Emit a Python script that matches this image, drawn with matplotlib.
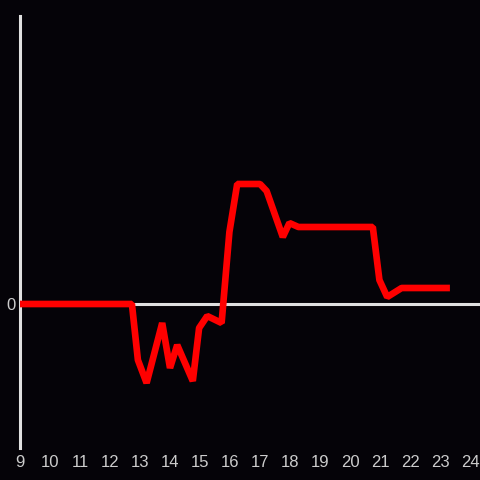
import matplotlib
matplotlib.use("Agg")
import matplotlib.pyplot as plt

hours = [9.0, 12.73, 12.93, 13.22, 13.74, 14.0, 14.24, 14.76, 14.97, 15.24, 15.72,
         15.98, 16.24, 17.0, 17.22, 17.76, 17.98, 18.28, 20.76, 20.98, 21.24, 21.72, 23.33]
values = [0, 0, -56, -79, -19, -64, -41, -77, -24, -12, -19,
          72, 120, 120, 113, 67, 81, 77, 77, 24, 7, 16, 16]
xticks = list(range(9, 25))
yticks = [0]

bg = "#050308"
fig = plt.figure(figsize=(4.8, 4.8), dpi=100, facecolor=bg)
ax = fig.add_axes([20/480, 32/480, 460/480, 432/480])
ax.set_facecolor(bg)
ax.set_xlim(9, 24.333)
ax.set_ylim(-144, 288)

ax.axhline(0, color="#e0e0e0", lw=2.2, zorder=1)
ax.plot(hours, values, color="#ff0000", lw=4.8, solid_joinstyle="bevel", solid_capstyle="butt", zorder=3)

for s in ["top", "right", "bottom"]:
    ax.spines[s].set_visible(False)
ax.spines["left"].set_color("#e0e0e0")
ax.spines["left"].set_linewidth(2.2)

ax.set_xticks(xticks)
ax.set_xticklabels([str(t) for t in xticks], family="Liberation Sans")
ax.set_yticks(yticks)
ax.set_yticklabels(["0"], family="Liberation Sans")
ax.tick_params(axis="both", length=0, colors="#cccccc", labelsize=12)
ax.tick_params(axis="x", pad=5)
ax.tick_params(axis="y", pad=3)

fig.savefig("out.png", dpi=100, facecolor=bg)
